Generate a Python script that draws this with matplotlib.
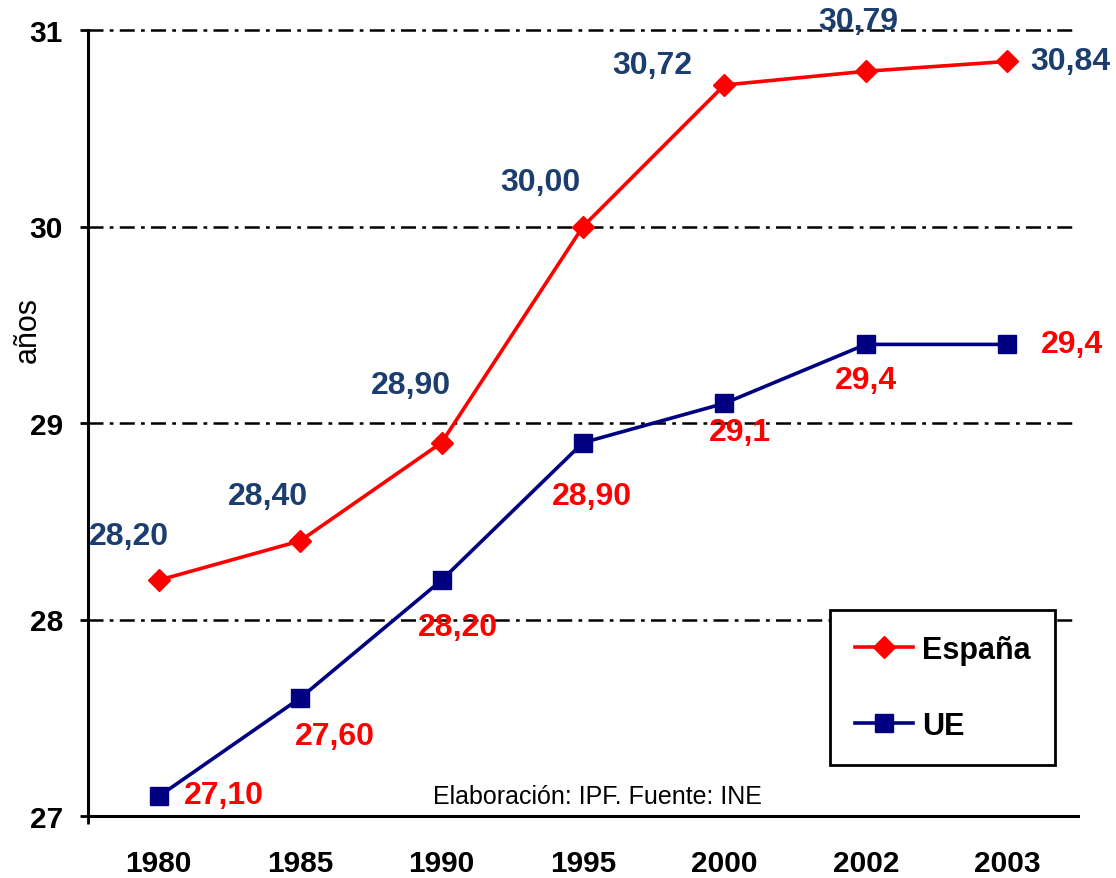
import numpy as np
import matplotlib
matplotlib.use("Agg")
import matplotlib.pyplot as plt

# Data
years = ["1980", "1985", "1990", "1995", "2000", "2002", "2003"]
espana = [28.20, 28.40, 28.90, 30.00, 30.72, 30.79, 30.84]
ue = [27.10, 27.60, 28.20, 28.90, 29.10, 29.40, 29.40]
espana_labels = ["28,20", "28,40", "28,90", "30,00", "30,72", "30,79", "30,84"]
ue_labels = ["27,10", "27,60", "28,20", "28,90", "29,1", "29,4", "29,4"]
y_ticks = [27, 28, 29, 30, 31]

# label offsets in points (relative to each point)
espana_offsets = [(-21.6, 31.7), (-23, 32.4), (-22.3, 41.8), (-31, 31.7),
                  (-51.8, 14.4), (-5.8, 36), (45.4, 0)]
ue_offsets = [(46.8, 0.7), (25.2, -27.4), (11.5, -33.8), (6.5, -38.2),
              (11.5, -20.9), (0, -25.9), (46.8, 0)]

plt.rcParams['font.family'] = ['Liberation Sans', 'DejaVu Sans']

red = "#FF0000"
navy = "#000080"
label_blue = "#1B3E6E"

W, H = 1116, 879
fig = plt.figure(figsize=(W / 100, H / 100), dpi=100)
ax = fig.add_axes([88 / W, 1 - 817 / H, (1078 - 88) / W, (817 - 31) / H])

x = np.arange(len(years))
ax.plot(x, espana, color=red, lw=2.6, marker='D', ms=11, label='España', zorder=4)
ax.plot(x, ue, color=navy, lw=2.6, marker='s', ms=13, label='UE', zorder=4)

for xi, v, txt, off in zip(x, espana, espana_labels, espana_offsets):
    ax.annotate(txt, (xi, v), xytext=off, textcoords='offset points',
                ha='center', va='center', fontsize=23, fontweight='bold',
                color=label_blue, zorder=5)
for xi, v, txt, off in zip(x, ue, ue_labels, ue_offsets):
    ax.annotate(txt, (xi, v), xytext=off, textcoords='offset points',
                ha='center', va='center', fontsize=23, fontweight='bold',
                color=red, zorder=5)

ax.set_xlim(-0.5, 6.5)
ax.set_ylim(27, 31)
ax.set_xticks(x)
ax.set_xticklabels(years, fontsize=21.5, fontweight='bold')
ax.set_yticks(y_ticks)
ax.set_yticklabels([str(t) for t in y_ticks], fontsize=21.5, fontweight='bold')
ax.tick_params(axis='x', length=0, pad=24)
ax.tick_params(axis='y', length=6, width=2, pad=12, direction='out')
ax.set_xticks([-0.5], minor=True)
ax.tick_params(axis='x', which='minor', length=6, width=2)

for s in ['top', 'right']:
    ax.spines[s].set_visible(False)
for s in ['left', 'bottom']:
    ax.spines[s].set_linewidth(2.2)

# dash-dot grid
for t in y_ticks[1:]:
    ax.axhline(t, color='black', lw=1.8, dashes=(6, 2.5, 1.5, 2.5), zorder=1, clip_on=False)

ax.set_ylabel('años', fontsize=22)
ax.yaxis.set_label_coords(-0.046, 0.62)

ax.text(0.515, 0.025, 'Elaboración: IPF. Fuente: INE', transform=ax.transAxes,
        ha='center', va='center', fontsize=18)

leg = ax.legend(loc='lower right', bbox_to_anchor=(1055 / W, 1 - 766 / H),
                bbox_transform=fig.transFigure, frameon=True, fancybox=False,
                edgecolor='black', framealpha=1, labelspacing=1.5, borderpad=0.8,
                borderaxespad=0, handlelength=1.9, handletextpad=0.3,
                prop={'size': 22, 'weight': 'bold'})
leg.get_frame().set_linewidth(2)
leg.set_zorder(6)

fig.savefig("out.png", dpi=100)
